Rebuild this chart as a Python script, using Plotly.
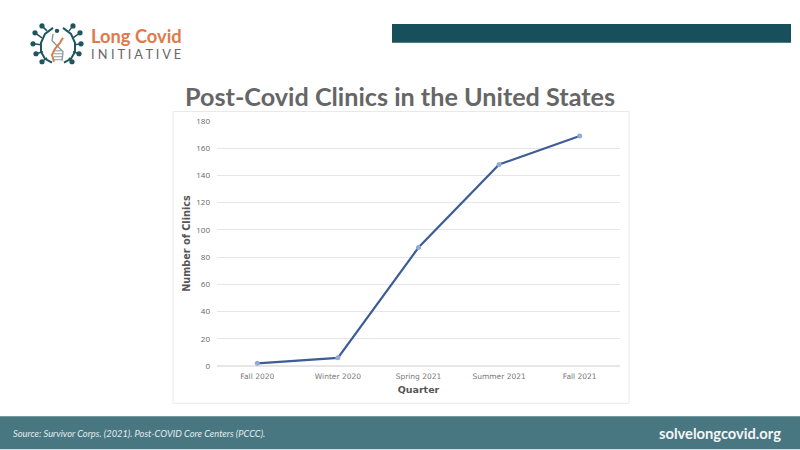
import plotly.graph_objects as go

quarters = ["Fall 2020", "Winter 2020", "Spring 2021", "Summer 2021", "Fall 2021"]
clinics = [2, 6, 87, 148, 169]
y_ticks = [0, 20, 40, 60, 80, 100, 120, 140, 160, 180]

left, right, top, bottom = 217, 620, 120.5, 366.5  # plot area in pixels


def px(x):
    return (x - left) / (right - left)


def py(y):
    return (bottom - y) / (bottom - top)


def box(x0, y0, x1, y1, fill, line="rgba(0,0,0,0)"):
    return dict(type="rect", xref="paper", yref="paper", x0=px(x0), x1=px(x1), y0=py(y0), y1=py(y1),
                fillcolor=fill, line=dict(color=line, width=1), layer="below")


def dot(x, y, r, fill):
    return dict(type="circle", xref="paper", yref="paper", x0=px(x - r), x1=px(x + r), y0=py(y + r), y1=py(y - r),
                fillcolor=fill, line=dict(width=0), layer="below")


def seg(x0, y0, x1, y1, color, width):
    return dict(type="line", xref="paper", yref="paper", x0=px(x0), x1=px(x1), y0=py(y0), y1=py(y1),
                line=dict(color=color, width=width), layer="below")


def curve(points, color, width):
    path = "M " + " L ".join("%.4f,%.4f" % (px(a), py(b)) for a, b in points)
    return dict(type="path", xref="paper", yref="paper", path=path, line=dict(color=color, width=width), layer="below")


def text(x, y, s, size, color, font, anchor="left"):
    return dict(x=px(x), y=py(y), xref="paper", yref="paper", text=s, showarrow=False, xanchor=anchor, yanchor="middle",
                font=dict(size=size, color=color, family=font))


teal = "#1f5560"
orange = "#e0794c"

shapes = [
    box(0, 417, 800, 450, "#487782"),
    box(392, 23, 791, 42, "#17505a"),
    box(173, 111, 629, 404, "white", "#e9e9e9"),
]

# virus logo
shapes += [
    curve([(53, 27), (45, 33), (41, 42), (41, 51), (45, 58), (52, 62)], teal, 2),
    curve([(63, 27), (71, 33), (75, 42), (75, 51), (71, 58), (64, 62)], teal, 2),
]
for x, y, xe, ye in [(42, 25, 47, 30), (35, 32, 42, 37), (33, 43, 41, 44), (36, 53, 43, 51), (42, 61, 47, 57),
                     (73, 25, 69, 30), (80, 32, 73, 37), (79, 53, 73, 51), (72, 61, 69, 57), (81, 43, 75, 44)]:
    shapes.append(seg(x, y, xe, ye, teal, 1.5))
    shapes.append(dot(x, y, 2.6, teal))
shapes += [
    curve([(53, 33), (52, 40), (58, 46), (63, 51), (62, 60)], "#8d9a9c", 1.4),
    curve([(63, 37), (60, 42), (55, 48), (52, 54), (54, 61)], orange, 2),
    dot(57, 30, 2.2, teal),
]
for y in [50, 53, 56, 59]:
    shapes.append(seg(54, y, 62, y, "#8d9a9c", 1))

annotations = [
    text(89, 35, "<b>Long Covid</b>", 18.3, orange, "Lato"),
    text(89, 53, "I N I T I A T I V E", 12.8, "#666666", "Lato"),
    text(400, 95, "<b>Post-Covid Clinics in the United States</b>", 25.2, "#666666", "Lato", "center"),
    text(11, 434, "<i>Source: Survivor Corps. (2021). Post-COVID Core Centers (PCCC).</i>", 9.3, "#e4ecee", "Lato"),
    text(783, 434, "<b>solvelongcovid.org</b>", 14.7, "#f2f6f6", "Lato", "right"),
]

fig = go.Figure()
fig.add_scatter(x=quarters, y=clinics, mode="lines+markers", line=dict(color="#3d5c98", width=2.2),
                marker=dict(color="#8fabd6", size=5))

fig.update_xaxes(
    range=[-0.5, 4.5],
    showgrid=False,
    showline=False,
    ticks="",
    ticklabelstandoff=4,
    tickfont=dict(size=7.5, color="#777777", family="DejaVu Sans"),
    title=dict(text="<b>Quarter</b>", font=dict(size=9.5, color="#555555", family="DejaVu Sans"), standoff=6),
)
fig.update_yaxes(
    range=[0, 180],
    tickvals=y_ticks,
    gridcolor="#e6e6e6",
    gridwidth=1,
    zeroline=True,
    zerolinecolor="#e6e6e6",
    ticklabelstandoff=6,
    tickfont=dict(size=8, color="#666666", family="Open Sans"),
    title=dict(text="<b>Number of Clinics</b>", font=dict(size=9.7, color="#555555", family="DejaVu Sans"), standoff=3),
)
fig.update_layout(
    width=800,
    height=450,
    margin=dict(l=left, r=800 - right, t=top, b=450 - bottom, pad=0),
    paper_bgcolor="white",
    plot_bgcolor="rgba(0,0,0,0)",
    showlegend=False,
    shapes=shapes,
    annotations=annotations,
)
fig.write_html("out.html", post_script="document.body.style.margin = '0';", config=dict(displayModeBar=False))
